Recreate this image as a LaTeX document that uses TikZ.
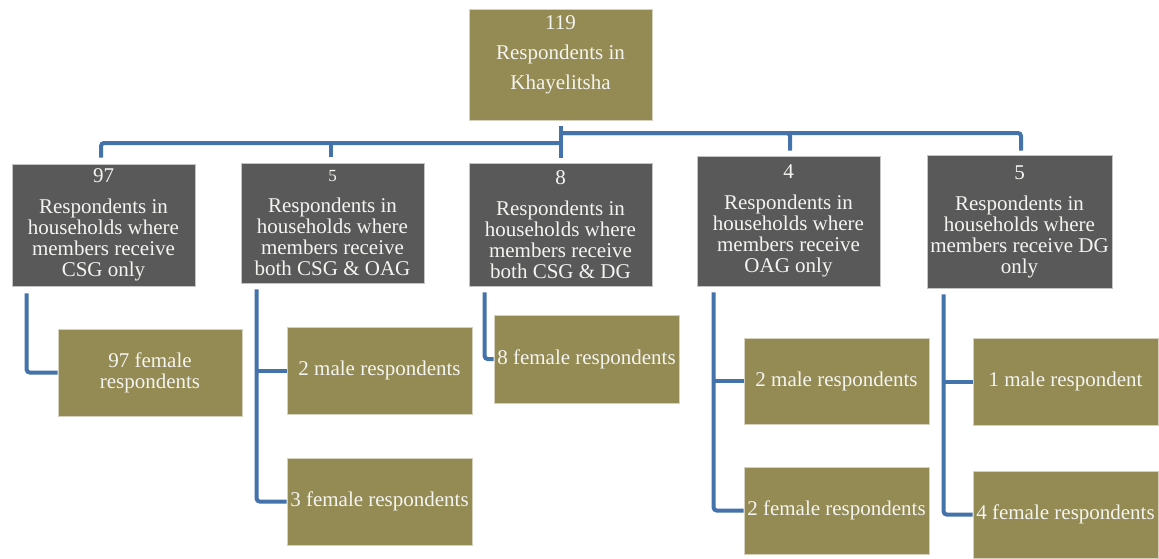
\documentclass[tikz,border=0pt]{standalone}
\usepackage{fontspec}
\setmainfont{Liberation Serif}
\definecolor{olive}{HTML}{948A54}
\definecolor{dgray}{HTML}{595959}
\definecolor{conncol}{RGB}{68,114,170}
\definecolor{txt}{HTML}{F4F4F0}
\definecolor{olivebd}{HTML}{D6D1BC}
\definecolor{graybd}{HTML}{C4C4C4}
\begin{document}
\begin{tikzpicture}[x=1pt,y=-1pt,
  base/.style={inner sep=0pt, align=center, text=txt, font=\fontsize{21}{21}\selectfont, line width=0.8pt},
  dk/.style={base, fill=dgray, draw=graybd},
  ol/.style={base, fill=olive, draw=olivebd},
  conn/.style={draw=conncol, line width=4pt, rounded corners=3pt}]
\useasboundingbox (0,0) rectangle (1159,558);
\fill[white] (0,0) rectangle (1159,558);
% top
\node[ol, minimum width=183, minimum height=111, text depth=23pt, font=\fontsize{21}{30}\selectfont] (T) at (560.5,64.5) {119\\Respondents in\\Khayelitsha};
% level 1
\node[dk, minimum width=183, minimum height=122] (B1) at (103.5,225) {97\\[10pt]Respondents in\\households where\\members receive\\CSG only};
\node[dk, minimum width=183, minimum height=120] (B2) at (332.5,223) {{\fontsize{17}{17}\selectfont 5}\\[10pt]Respondents in\\households where\\members receive\\both CSG \& OAG};
\node[dk, minimum width=183, minimum height=123] (B3) at (560.5,224.5) {8\\[10pt]Respondents in\\households where\\members receive\\both CSG \& DG};
\node[dk, minimum width=183, minimum height=130] (B4) at (788.5,221) {4\\[10pt]Respondents in\\households where\\members receive\\OAG only};
\node[dk, minimum width=185, minimum height=133] (B5) at (1019.5,221.5) {5\\[10pt]Respondents in\\households where\\members receive DG\\only};
% level 2
\node[ol, minimum width=184, minimum height=87] (L1) at (150,372.5) {97 female\\respondents};
\node[ol, minimum width=185, minimum height=87] (L2a) at (379.5,370.5) {2 male respondents};
\node[ol, minimum width=185, minimum height=87] (L2b) at (379.5,501.5) {3 female respondents};
\node[ol, minimum width=185, minimum height=88] (L3) at (586.5,359) {8 female respondents};
\node[ol, minimum width=185, minimum height=86] (L4a) at (836.5,381) {2 male respondents};
\node[ol, minimum width=185, minimum height=87] (L4b) at (836.5,510.5) {2 female respondents};
\node[ol, minimum width=185, minimum height=87] (L5a) at (1065.5,381.5) {1 male respondent};
\node[ol, minimum width=185, minimum height=87] (L5b) at (1065.5,514.5) {4 female respondents};
% connectors top level
\coordinate (J) at (560.5,143);
\coordinate (K) at (560.5,133);
\draw[conn] ([yshift=-6pt]T.south) -- ([yshift=5pt]B3.north);
\draw[conn] ([xshift=-2.5pt,yshift=6pt]B1.north) |- (J);
\draw[conn] ([xshift=-1.5pt,yshift=6pt]B2.north) -- ([xshift=-1.5pt]B2.north |- J);
\draw[conn] ([xshift=1.5pt,yshift=5pt]B4.north) |- (K);
\draw[conn] ([xshift=1.5pt,yshift=4pt]B5.north) |- (K);
% connectors level 2
\coordinate (c1) at ([xshift=15pt,yshift=-7pt]B1.south west);
\coordinate (c2) at ([xshift=16pt,yshift=-6pt]B2.south west);
\coordinate (c3) at ([xshift=16pt,yshift=-6pt]B3.south west);
\coordinate (c4) at ([xshift=17pt,yshift=-6pt]B4.south west);
\coordinate (c5) at ([xshift=17pt,yshift=-6pt]B5.south west);
\draw[conn] (c1) |- (L1.west);
\draw[conn] (c2) |- (L2b.west);
\draw[conn] (c2 |- L2a.west) -- (L2a.west);
\draw[conn] (c3) |- (L3.west);
\draw[conn] (c4) |- (L4b.west);
\draw[conn] (c4 |- L4a.west) -- (L4a.west);
\draw[conn] (c5) |- (L5b.west);
\draw[conn] (c5 |- L5a.west) -- (L5a.west);
\end{tikzpicture}
\end{document}
